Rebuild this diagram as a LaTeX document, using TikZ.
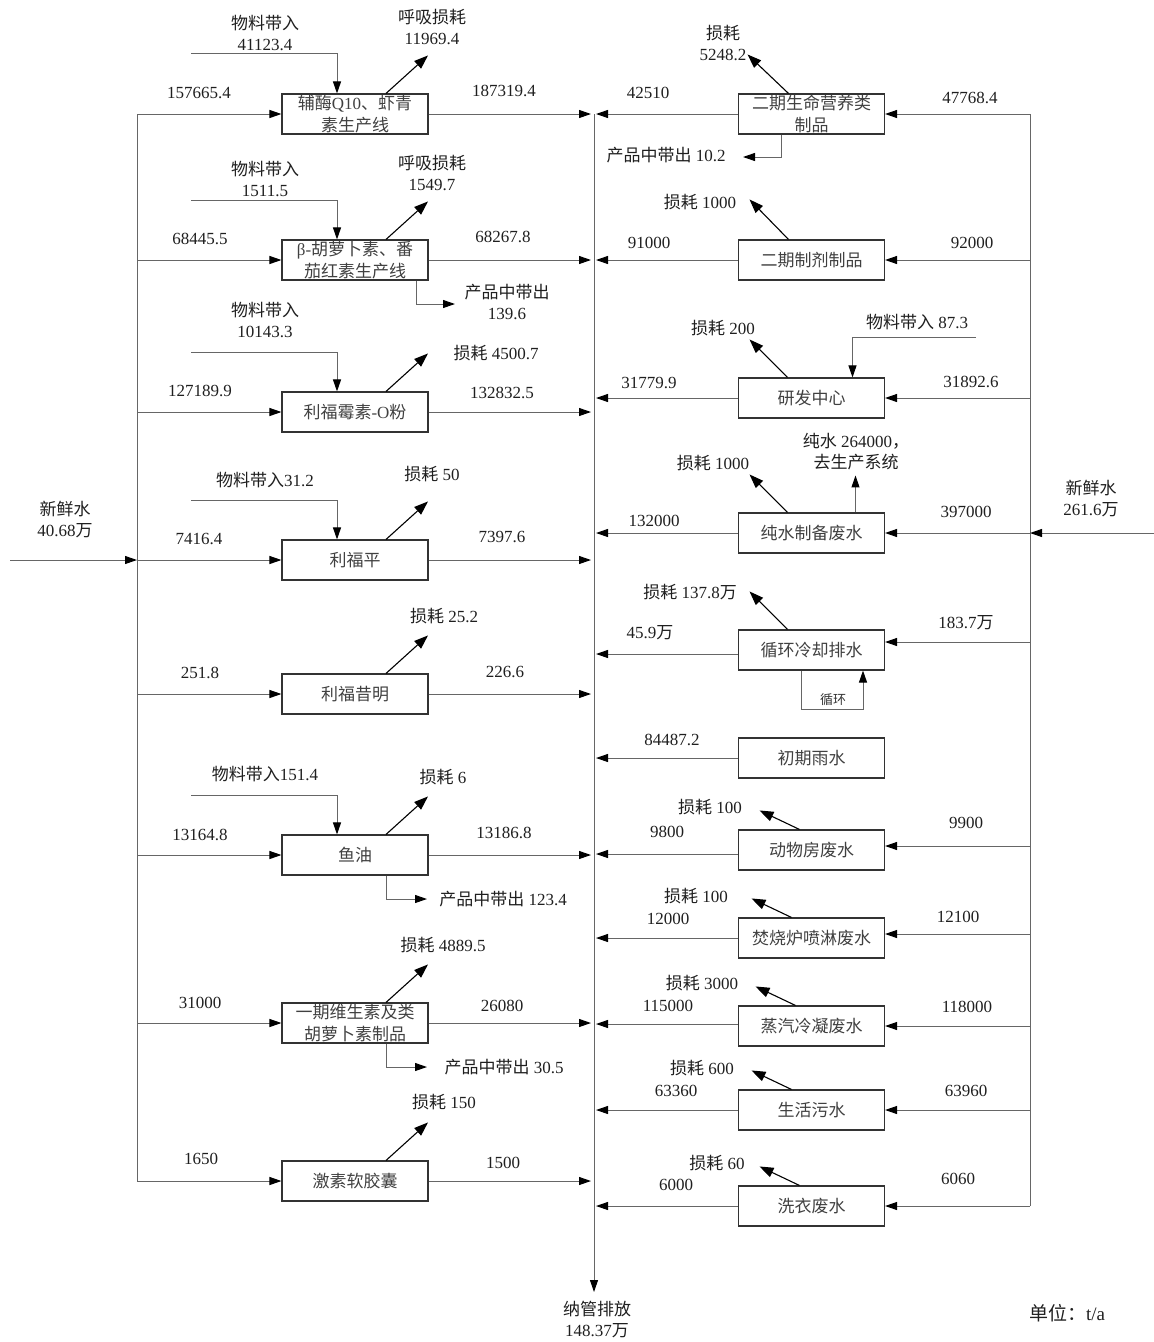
\documentclass[tikz,border=0pt]{standalone}
\usepackage{fontspec}
\setmainfont{Liberation Serif}
\newfontfamily\zhfont{Noto Sans CJK SC}
\newcommand\zh[1]{{\zhfont #1}}
\newcommand\lblfont{\fontsize{17}{21}\selectfont}
\usetikzlibrary{arrows.meta}
\begin{document}
\begin{tikzpicture}[x=1pt,y=-1pt,
  box/.style={draw=black!80, line width=1.1pt, minimum width=146pt, minimum height=40pt, align=center, inner sep=0pt, font=\fontsize{17}{22}\selectfont, text=black!75},
  lbl/.style={inner sep=0pt, align=center, font=\lblfont, text=black!88},
  small/.style={inner sep=0pt, align=center, font=\fontsize{13}{15}\selectfont, text=black!80},
  bus/.style={draw=black!60, line width=1pt},
  flow/.style={draw=black!60, line width=1pt, -{Triangle[length=12pt,width=8pt,color=black,fill=black]}},
  loss/.style={draw=black, line width=1.1pt, -{Triangle[length=14pt,width=10pt]}},
]
\useasboundingbox (0,0) rectangle (1154,1342);

% ---------- buses ----------
\coordinate (lbT) at (137,114);
\coordinate (lbB) at (137,1181);
\coordinate (mbT) at (594,114);
\coordinate (mbB) at (594,1292);
\coordinate (rbT) at (1030,114);
\coordinate (rbB) at (1030,1206);
\draw[bus] (lbT) -- (lbB);
\draw[flow] (mbT) -- (mbB);
\draw[bus] (rbT) -- (rbB);

% ---------- left boxes ----------
\node[box] (L1) at (355,114) {\zh{辅酶}Q10\zh{、虾青}\\\zh{素生产线}};
\node[box] (L2) at (355,260) {β-\zh{胡萝卜素、番}\\\zh{茄红素生产线}};
\node[box] (L3) at (355,412) {\zh{利福霉素}-O\zh{粉}};
\node[box] (L4) at (355,560) {\zh{利福平}};
\node[box] (L5) at (355,694) {\zh{利福昔明}};
\node[box] (L6) at (355,855) {\zh{鱼油}};
\node[box] (L7) at (355,1023) {\zh{一期维生素及类}\\\zh{胡萝卜素制品}};
\node[box] (L8) at (355,1181) {\zh{激素软胶囊}};

\foreach \n in {L1,L2,L3,L4,L5,L6,L7,L8}{
  \draw[flow] (lbT |- \n.west) -- (\n.west);
  \draw[flow, shorten >=3pt] (\n.east) -- (mbT |- \n.east);
  \draw[loss] ([xshift=31pt]\n.north) -- ++(42,-38) coordinate (\n loss);
}

% left flow labels
\node[lbl] (iL1) at (199,93) {157665.4};
\node[lbl] (oL1) at (504,91) {187319.4};
\node[lbl] (iL2) at (200,239) {68445.5};
\node[lbl] (oL2) at (503,237) {68267.8};
\node[lbl] (iL3) at (200,391) {127189.9};
\node[lbl] (oL3) at (502,393) {132832.5};
\node[lbl] (iL4) at (199,539) {7416.4};
\node[lbl] (oL4) at (502,537) {7397.6};
\node[lbl] (iL5) at (200,673) {251.8};
\node[lbl] (oL5) at (505,672) {226.6};
\node[lbl] (iL6) at (200,835) {13164.8};
\node[lbl] (oL6) at (504,833) {13186.8};
\node[lbl] (iL7) at (200,1003) {31000};
\node[lbl] (oL7) at (502,1006) {26080};
\node[lbl] (iL8) at (201,1159) {1650};
\node[lbl] (oL8) at (503,1163) {1500};

% left loss labels
\node[lbl] (lL1) at (432,27) {\zh{呼吸损耗}\\11969.4};
\node[lbl] (lL2) at (432,173) {\zh{呼吸损耗}\\1549.7};
\node[lbl] (lL3) at (496,353) {\zh{损耗} 4500.7};
\node[lbl] (lL4) at (432,474) {\zh{损耗} 50};
\node[lbl] (lL5) at (444,616) {\zh{损耗} 25.2};
\node[lbl] (lL6) at (443,777) {\zh{损耗} 6};
\node[lbl] (lL7) at (443,945) {\zh{损耗} 4889.5};
\node[lbl] (lL8) at (444,1102) {\zh{损耗} 150};

% material inputs (left)
\coordinate (mL1) at (191,53);
\coordinate (mL2) at (191,200);
\coordinate (mL3) at (191,352);
\coordinate (mL4) at (191,500);
\coordinate (mL6) at (191,795);
\foreach \n in {L1,L2,L3,L4,L6}{
  \draw[flow] (m\n) -| ([xshift=-18pt]\n.north);
}
\node[lbl] (tL1) at (265,33) {\zh{物料带入}\\41123.4};
\node[lbl] (tL2) at (265,179) {\zh{物料带入}\\1511.5};
\node[lbl] (tL3) at (265,320) {\zh{物料带入}\\10143.3};
\node[lbl] (tL4) at (265,480) {\zh{物料带入}31.2};
\node[lbl] (tL6) at (265,774) {\zh{物料带入}151.4};

% product out (left)
\coordinate (pL2) at (455,304);
\coordinate (pL6) at (427,899);
\coordinate (pL7) at (427,1067);
\draw[flow] ([xshift=61pt]L2.south) |- (pL2);
\draw[flow] ([xshift=31pt]L6.south) |- (pL6);
\draw[flow] ([xshift=31pt]L7.south) |- (pL7);
\node[lbl] (qL2) at (507,302) {\zh{产品中带出}\\139.6};
\node[lbl] (qL6) at (503,899) {\zh{产品中带出} 123.4};
\node[lbl] (qL7) at (504,1067) {\zh{产品中带出} 30.5};

% ---------- right boxes ----------
\node[box] (R1) at (811.5,114) {\zh{二期生命营养类}\\\zh{制品}};
\node[box] (R2) at (811.5,260) {\zh{二期制剂制品}};
\node[box] (R3) at (811.5,398) {\zh{研发中心}};
\node[box] (R4) at (811.5,533) {\zh{纯水制备废水}};
\node[box] (R5) at (811.5,650) {\zh{循环冷却排水}};
\node[box] (R6) at (811.5,758) {\zh{初期雨水}};
\node[box] (R7) at (811.5,850) {\zh{动物房废水}};
\node[box] (R8) at (811.5,938) {\zh{焚烧炉喷淋废水}};
\node[box] (R9) at (811.5,1026) {\zh{蒸汽冷凝废水}};
\node[box] (R10) at (811.5,1110) {\zh{生活污水}};
\node[box] (R11) at (811.5,1206) {\zh{洗衣废水}};

% shifted port coordinates
\coordinate (R5out) at ([yshift=-4pt]R5.west);
\coordinate (R7out) at ([yshift=-4pt]R7.west);
\coordinate (R9out) at ([yshift=2pt]R9.west);
\coordinate (R5in) at ([yshift=8pt]R5.east);
\coordinate (R7in) at ([yshift=4pt]R7.east);
\coordinate (R8in) at ([yshift=4pt]R8.east);

% outputs to middle bus
\foreach \n in {R1,R2,R3,R4,R6,R8,R10,R11}{
  \draw[flow, shorten >=2pt] (\n.west) -- (mbT |- \n.west);
}
\foreach \p in {R5out,R7out,R9out}{
  \draw[flow, shorten >=2pt] (\p) -- (mbT |- \p);
}

% inputs from right bus
\foreach \n in {R1,R2,R3,R4,R9,R10,R11}{
  \draw[flow] (rbT |- \n.east) -- (\n.east);
}
\foreach \p in {R5in,R7in,R8in}{
  \draw[flow] (rbT |- \p) -- (\p);
}

% losses (right)
\draw[loss] ([xshift=-23pt]R1.north) -- ++(-41,-39) coordinate (R1loss);
\draw[loss] ([xshift=-23pt]R2.north) -- ++(-39,-40) coordinate (R2loss);
\draw[loss] ([xshift=-24pt]R3.north) -- ++(-38,-38) coordinate (R3loss);
\draw[loss] ([xshift=-24pt]R4.north) -- ++(-38,-38) coordinate (R4loss);
\draw[loss] ([xshift=-24pt]R5.north) -- ++(-38,-38) coordinate (R5loss);
\draw[loss] ([xshift=-12pt]R7.north) -- ++(-40,-19) coordinate (R7loss);
\draw[loss] ([xshift=-20pt]R8.north) -- ++(-40,-19) coordinate (R8loss);
\draw[loss] ([xshift=-16pt]R9.north) -- ++(-40,-19) coordinate (R9loss);
\draw[loss] ([xshift=-20pt]R10.north) -- ++(-40,-19) coordinate (R10loss);
\draw[loss] ([xshift=-12pt]R11.north) -- ++(-40,-19) coordinate (R11loss);

% right labels
\node[lbl] (oR1) at (648,93) {42510};
\node[lbl] (iR1) at (970,98) {47768.4};
\node[lbl] (lR1) at (723,43) {\zh{损耗}\\5248.2};
\node[lbl] (oR2) at (649,243) {91000};
\node[lbl] (iR2) at (972,243) {92000};
\node[lbl] (lR2) at (700,202) {\zh{损耗} 1000};
\node[lbl] (oR3) at (649,383) {31779.9};
\node[lbl] (iR3) at (971,382) {31892.6};
\node[lbl] (lR3) at (723,328) {\zh{损耗} 200};
\node[lbl] (oR4) at (654,521) {132000};
\node[lbl] (iR4) at (966,512) {397000};
\node[lbl] (lR4) at (713,463) {\zh{损耗} 1000};
\node[lbl] (oR5) at (650,633) {45.9\zh{万}};
\node[lbl] (iR5) at (966,623) {183.7\zh{万}};
\node[lbl] (lR5) at (690,592) {\zh{损耗} 137.8\zh{万}};
\node[lbl] (oR6) at (672,740) {84487.2};
\node[lbl] (oR7) at (667,832) {9800};
\node[lbl] (iR7) at (966,823) {9900};
\node[lbl] (lR7) at (710,807) {\zh{损耗} 100};
\node[lbl] (oR8) at (668,919) {12000};
\node[lbl] (iR8) at (958,917) {12100};
\node[lbl] (lR8) at (696,896) {\zh{损耗} 100};
\node[lbl] (oR9) at (668,1006) {115000};
\node[lbl] (iR9) at (967,1007) {118000};
\node[lbl] (lR9) at (702,983) {\zh{损耗} 3000};
\node[lbl] (oR10) at (676,1091) {63360};
\node[lbl] (iR10) at (966,1091) {63960};
\node[lbl] (lR10) at (702,1068) {\zh{损耗} 600};
\node[lbl] (oR11) at (676,1185) {6000};
\node[lbl] (iR11) at (958,1179) {6060};
\node[lbl] (lR11) at (717,1163) {\zh{损耗} 60};

% R1 product out
\coordinate (pR1) at (743,157);
\draw[flow] ([xshift=-30pt]R1.south) |- (pR1);
\node[lbl] (qR1) at (666,155) {\zh{产品中带出} 10.2};

% R3 material input
\coordinate (mR3) at (976,337);
\draw[flow] (mR3) -| ([xshift=41pt]R3.north);
\node[lbl] (tR3) at (917,322) {\zh{物料带入} 87.3};

% R4 pure water
\draw[flow] ([xshift=44pt]R4.north) -- ++(0,-37) coordinate (R4up);
\node[lbl] (uR4) at (856,452) {\zh{纯水} 264000\zh{，}\\\zh{去生产系统}};

% R5 recirculation loop
\coordinate (cR5b) at (863,709);
\draw[flow] ([xshift=-10.5pt]R5.south) |- (cR5b) -- ([xshift=51.5pt]R5.south);
\node[small] (cR5) at (833,700) {\zh{循环}};

% fresh water
\coordinate (fwLs) at (10,560);
\draw[flow] (fwLs) -- (lbT |- fwLs);
\node[lbl] (fwL) at (65,520) {\zh{新鲜水}\\40.68\zh{万}};
\coordinate (fwRs) at (1154,533);
\draw[flow] (fwRs) -- (rbT |- fwRs);
\node[lbl] (fwR) at (1091,499) {\zh{新鲜水}\\261.6\zh{万}};

% discharge
\node[lbl] (dis) at (597,1320) {\zh{纳管排放}\\148.37\zh{万}};
\node[lbl, font=\fontsize{19}{22}\selectfont] (unit) at (1067,1313) {\zh{单位：}t/a};
\end{tikzpicture}
\end{document}
